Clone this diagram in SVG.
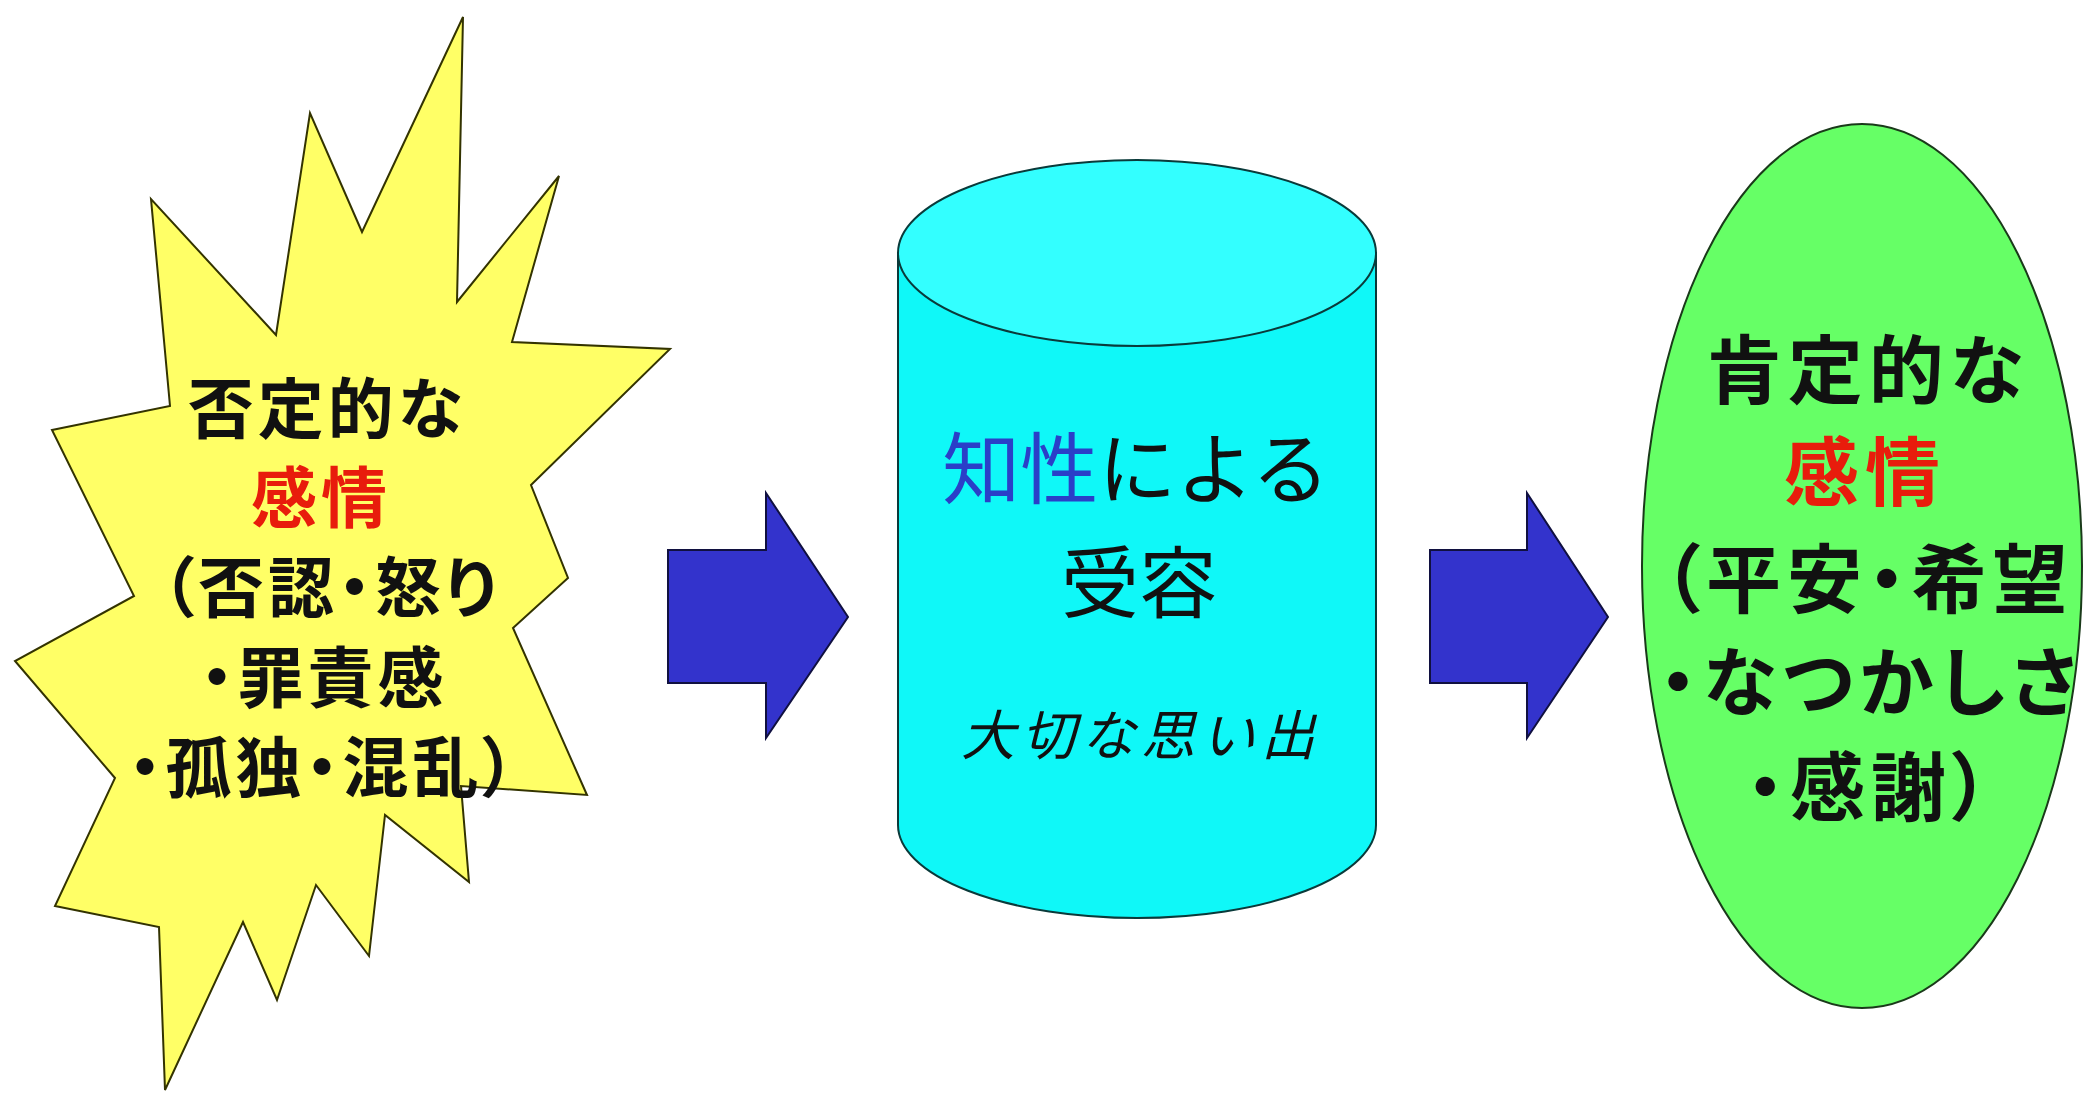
<svg xmlns="http://www.w3.org/2000/svg" width="2085" height="1095" viewBox="0 0 2085 1095">
<style>
.jp{font-family:"Noto Sans CJK JP","Noto Sans CJK SC",sans-serif;text-anchor:middle;fill:#111;}
.bold{font-weight:700;}
.p{font-feature-settings:"palt";}
.red{fill:#e81c0c;}
.blue{fill:#2a3fc8;}
.arrow{fill:#3333cc;stroke:#101040;stroke-width:2;stroke-linejoin:miter;}
</style>
<rect width="2085" height="1095" fill="#ffffff"/>
<g id="node-negative">
<polygon points="463,17 457,302 559,176 512,342 670,349 531,485 568,578 513,628 587,795 461,786 469,882 385,815 369,956 316,885 277,1000 243,922 165,1090 159,927 55,906 115,778 15,661 134,596 52,430 170,406 151,199 276,335 310,113 362,232" fill="#ffff66" stroke="#333300" stroke-width="2" stroke-linejoin="miter"/>
<g class="jp bold p" font-size="66" letter-spacing="4">
<text x="327" y="433">否定的な</text>
<text x="321" y="522" class="red">感情</text>
<text x="331" y="612">（否認・怒り</text>
<text x="324" y="702">・罪責感</text>
<text x="324" y="792">・孤独・混乱）</text>
</g>
</g>
<g id="node-acceptance">
<path d="M898,253 V825 A239,93 0 0 0 1376,825 V253 Z" fill="#0ff8f8" stroke="#0a3a3a" stroke-width="2"/>
<ellipse cx="1137" cy="253" rx="239" ry="93" fill="#33ffff" stroke="#0a3a3a" stroke-width="2"/>
<text class="jp" font-size="78" x="1136" y="498"><tspan class="blue">知性</tspan>による</text>
<text class="jp" font-size="78" x="1139" y="612">受容</text>
<text class="jp" font-size="54" font-style="italic" letter-spacing="6" x="1141" y="755">大切な思い出</text>
</g>
<g id="node-positive">
<ellipse cx="1862" cy="566" rx="220" ry="442" fill="#66ff66" stroke="#1a3a1a" stroke-width="2"/>
<g class="jp bold p" font-size="75" letter-spacing="6">
<text x="1868" y="398">肯定的な</text>
<text x="1865" y="500" class="red">感情</text>
<text x="1868" y="607">（平安・希望</text>
<text x="1871" y="710">・なつかしさ</text>
<text x="1871" y="815">・感謝）</text>
</g>
</g>
<g id="connectors">
<polygon class="arrow" points="668,550 766,550 766,493 848,617 766,738 766,683 668,683"/>
<polygon class="arrow" points="1430,550 1527,550 1527,493 1608,617 1527,738 1527,683 1430,683"/>
</g>
</svg>
